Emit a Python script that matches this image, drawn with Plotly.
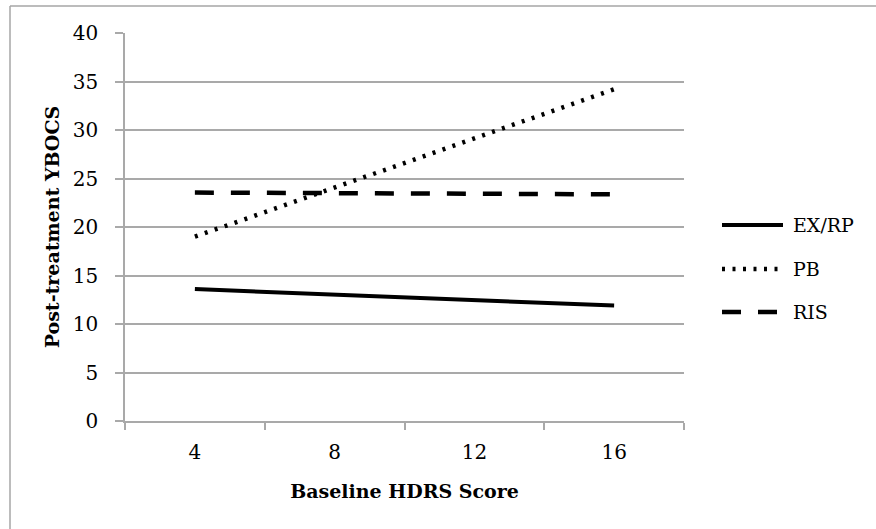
import plotly.graph_objects as go

categories = ["4", "8", "12", "16"]
series_names = ["EX/RP", "PB", "RIS"]
ex_rp = [13.6, 13.03, 12.45, 11.9]
pb = [19.0, 24.1, 29.15, 34.2]
ris = [23.55, 23.5, 23.45, 23.37]
y_ticks = [0, 5, 10, 15, 20, 25, 30, 35, 40]

W, H = 876, 529
L, R, T, B = 125, 192, 33, 108
pw, ph = W - L - R, H - T - B

FONT = "DejaVu Serif"
GRID = "#a9a9a9"

styles = [
    dict(color="black", width=4, dash="solid"),
    dict(color="black", width=4.5, dash="3px,7.5px"),
    dict(color="black", width=4.5, dash="19px,17px"),
]

fig = go.Figure()
for name, vals, st in zip(series_names, [ex_rp, pb, ris], styles):
    fig.add_trace(go.Scatter(x=categories, y=vals, mode="lines", name=name,
                             line=st, showlegend=False))

def px2paper(x, y):
    return (x - L) / pw, (H - B - y) / ph

shapes = []
annotations = []
# outer chart border (top and left visible)
x0, y0 = px2paper(10, 6)
x1, _ = px2paper(W + 5, 6)
_, y1 = px2paper(10, H + 5)
shapes.append(dict(type="line", xref="paper", yref="paper", x0=x0, y0=y0, x1=x1, y1=y0,
                   line=dict(color="#a6a6a6", width=1.5)))
shapes.append(dict(type="line", xref="paper", yref="paper", x0=x0, y0=y0, x1=x0, y1=y1,
                   line=dict(color="#a6a6a6", width=1.5)))

# legend
rows_y = [225, 269, 312]
for name, st, ry in zip(series_names, styles, rows_y):
    lx0, ly = px2paper(722, ry)
    lx1, _ = px2paper(783, ry)
    tx, _ = px2paper(791, ry)
    shapes.append(dict(type="line", xref="paper", yref="paper", x0=lx0, y0=ly, x1=lx1, y1=ly,
                       line=st))
    annotations.append(dict(xref="paper", yref="paper", x=tx, y=ly, text=name, showarrow=False,
                            xanchor="left", yanchor="middle",
                            font=dict(family=FONT, size=19, color="black")))

fig.update_layout(
    width=W, height=H,
    margin=dict(l=L, r=R, t=T, b=B),
    paper_bgcolor="white", plot_bgcolor="white",
    shapes=shapes, annotations=annotations,
    font=dict(family=FONT, size=20, color="black"),
)
fig.update_xaxes(
    type="category", categoryorder="array", categoryarray=categories,
    range=[-0.5, 3.5], tickson="boundaries", ticks="outside", ticklen=7,
    tickcolor=GRID, tickwidth=1.5, showline=True, linecolor=GRID, linewidth=1.5,
    showgrid=False, ticklabelstandoff=12,
    title=dict(text="<b>Baseline HDRS Score</b>", font=dict(family=FONT, size=19), standoff=22),
)
fig.update_yaxes(
    range=[0, 40], tickvals=y_ticks, ticks="outside", ticklen=8, tickcolor=GRID, tickwidth=1.5,
    showline=True, linecolor=GRID, linewidth=1.5, showgrid=True, gridcolor=GRID, gridwidth=1.5,
    zeroline=False, ticklabelstandoff=13,
    title=dict(text="<b>Post-treatment YBOCS</b>", font=dict(family=FONT, size=19), standoff=8),
)
fig.write_html("out.html", config={"displayModeBar": False},
               post_script="document.body.style.margin='0';")
